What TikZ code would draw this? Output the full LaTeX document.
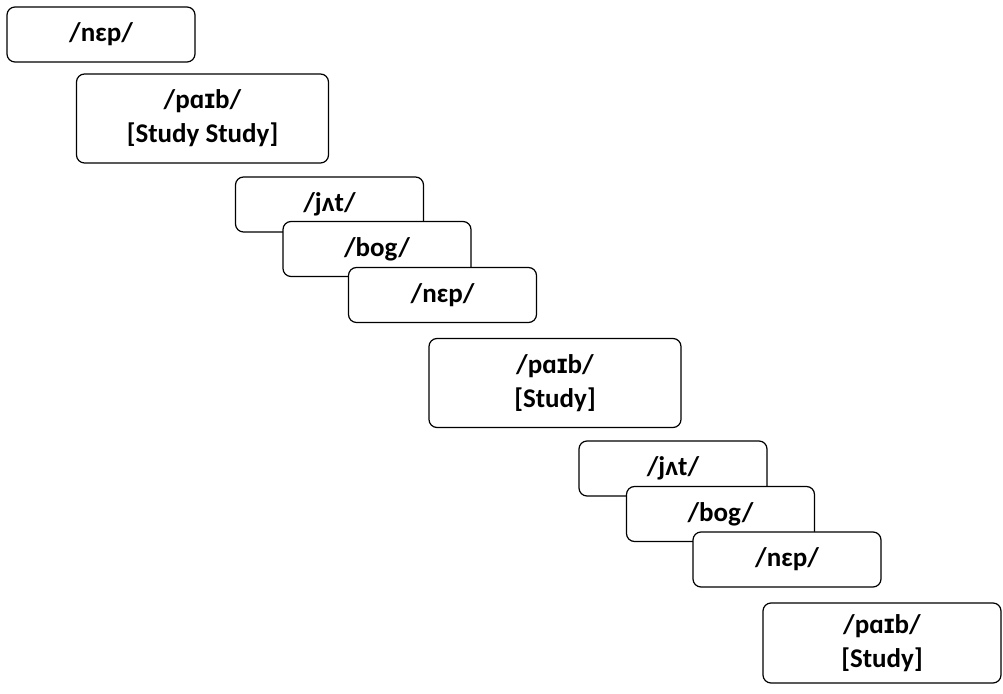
\documentclass[tikz,border=0pt]{standalone}
\usepackage{fontspec}
\setmainfont{Carlito}
\newfontfamily\ipafont{Liberation Sans}
\newcommand{\smallcapI}{{\ipafont ɪ}}
\begin{document}
\begin{tikzpicture}[x=0.5pt,y=-0.5pt,
  small/.style={draw,line width=0.6pt,rounded corners=4pt,fill=white,
    minimum width=94pt,minimum height=27.5pt,inner sep=0pt,
    font=\fontsize{13.5}{17}\selectfont\bfseries},
  big/.style={small,minimum width=126pt,minimum height=44.5pt,align=center}]

\useasboundingbox (0,0) rectangle (1003,694);

% first word
\node[small] (nepA) at (101,34.5) {/nɛp/};
\node[big] (paibA) at (202.5,118.5) {/pɑ\smallcapI b/\\{}[Study Study]};

% second group
\node[small] (jatA) at (329.5,204.5) {/jʌt/};
\node[small] (bogA) at (377,249) {/bog/};
\node[small] (nepB) at (442.5,295) {/nɛp/};
\node[big] (paibB) at (555,383) {/pɑ\smallcapI b/\\{}[Study]};

% third group
\node[small] (jatB) at (673,468.5) {/jʌt/};
\node[small] (bogB) at (720.5,514) {/bog/};
\node[small] (nepC) at (787,559.5) {/nɛp/};
\node[big,minimum width=119pt,minimum height=40pt] (paibC) at (882,643) {/pɑ\smallcapI b/\\{}[Study]};

\end{tikzpicture}
\end{document}
